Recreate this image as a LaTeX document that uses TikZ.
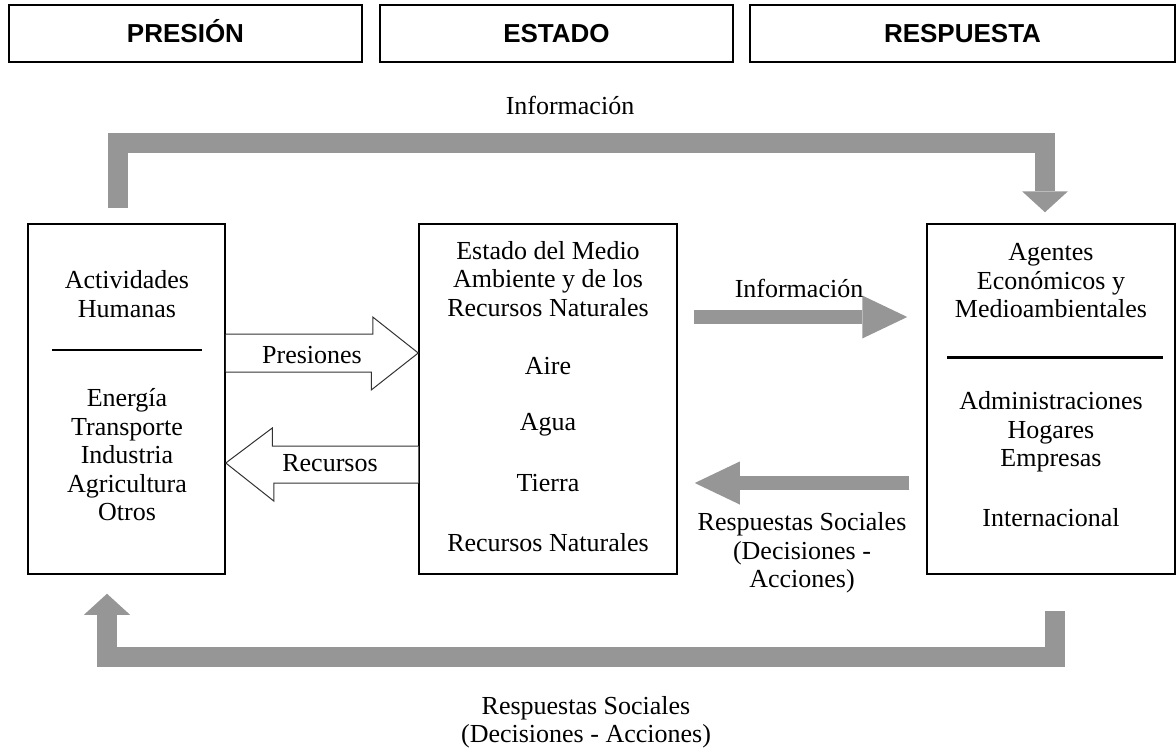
\documentclass[tikz,border=0pt]{standalone}
\usepackage{fontspec}
\setmainfont{Liberation Serif}
\newfontfamily\headfont{Liberation Sans}
\usetikzlibrary{arrows.meta,calc}
\definecolor{bargray}{RGB}{150,150,150}

\begin{document}
\begin{tikzpicture}[x=1pt,y=-1pt,
    panel/.style={draw,line width=1.5pt,inner sep=0pt},
    header/.style={panel,minimum height=57pt,text height=19pt,text depth=0pt,
      font=\headfont\bfseries\fontsize{26}{30}\selectfont},
    txt/.style={align=center,inner sep=0pt,font=\fontsize{26}{28.5}\selectfont},
    hollow/.style={draw=black!80,line width=1pt,fill=white},
    bar/.style={draw=bargray,line width=20pt},
    thinbar/.style={draw=bargray,line width=14pt},
    bigtip/.style={-{Triangle[width=46pt,length=21pt,line width=0pt]}},
    midtip/.style={-{Triangle[width=43pt,length=45pt,line width=0pt]}}]
    \useasboundingbox (0,0) rectangle (1176,752);
    % Draw the header boxes
    \node[header,minimum width=353pt] (presion) at (185.5,33.5) {PRESIÓN};
    \node[header,minimum width=353pt] (estado) at (556.5,33.5) {ESTADO};
    \node[header,minimum width=425pt] (respuesta) at (962.5,33.5) {RESPUESTA};
    % Draw the three main boxes
    \node[panel,minimum width=197pt,minimum height=350pt] (hum) at (126.5,399) {};
    \node[panel,minimum width=258pt,minimum height=350pt] (est) at (548,399) {};
    \node[panel,minimum width=248pt,minimum height=350pt] (age) at (1051,399) {};
    % Texts of the left box
    \node[txt] (humTop) at (127,294) {Actividades\\Humanas};
    \draw[line width=1.5pt] (52,350) -- (202,350);
    \node[txt] (humList) at (127,455) {Energía\\Transporte\\Industria\\Agricultura\\Otros};
    % Texts of the middle box
    \node[txt] (estTop) at (548,279) {Estado del Medio\\Ambiente y de los\\Recursos Naturales};
    \node[txt] (aire) at (548,366) {Aire};
    \node[txt] (agua) at (548,425) {Agua};
    \node[txt] (tierra) at (548,483) {Tierra};
    \node[txt] (recnat) at (548,543) {Recursos Naturales};
    % Texts of the right box
    \node[txt] (ageTop) at (1051,281) {Agentes\\Económicos y\\Medioambientales};
    \draw[line width=3pt] (947,357) -- (1163,357);
    \node[txt] (ageList) at (1051,432) {Administraciones\\Hogares\\Empresas};
    \node[txt] (intl) at (1051,518) {Internacional};
    % Draw the hollow arrows
    \draw[hollow] ($(hum.east)+(0,-65)$) -- ++(147,0) -- ++(0,-17)
      -- ($(est.west)+(0,-46)$) -- ++(-47,37) -- ++(0,-18) -- ($(hum.east)+(0,-27)$);
    \node[txt] (presiones) at (312,355) {Presiones};
    \draw[hollow] ($(est.west)+(0,47)$) -- ++(-146,0) -- ++(0,-18)
      -- ($(hum.east)+(0,64)$) -- ++(48,38) -- ++(0,-18) -- ($(est.west)+(0,84)$);
    \node[txt] (recursos) at (330,463) {Recursos};
    % Draw the gray arrows between the boxes
    \draw[thinbar,midtip] ($(est.east)+(16,-82)$) -- ($(age.west)+(-19,-82)$);
    \node[txt] (infoMid) at (799,288) {Información};
    \draw[thinbar,midtip] ($(age.west)+(-17,84)$) -- ($(est.east)+(17,84)$);
    \node[txt] (respMid) at (802,553) {Respuestas Sociales\\(Decisiones -\\Acciones)};
    % Draw the outer loop arrows
    \draw[bar,bigtip] ($(hum.north)+(-9,-15)$) -- ++(0,-65.5) -| ($(age.north)+(-6,-11)$);
    \node[txt] (infoTop) at (570,105) {Información};
    \draw[bar,bigtip] ($(age.south)+(4,36)$) -- ++(0,46.5) -| ($(hum.south)+(-19.5,19)$);
    \node[txt] (respBot) at (586,722) {Respuestas Sociales\\(Decisiones - Acciones)};
\end{tikzpicture}
\end{document}
